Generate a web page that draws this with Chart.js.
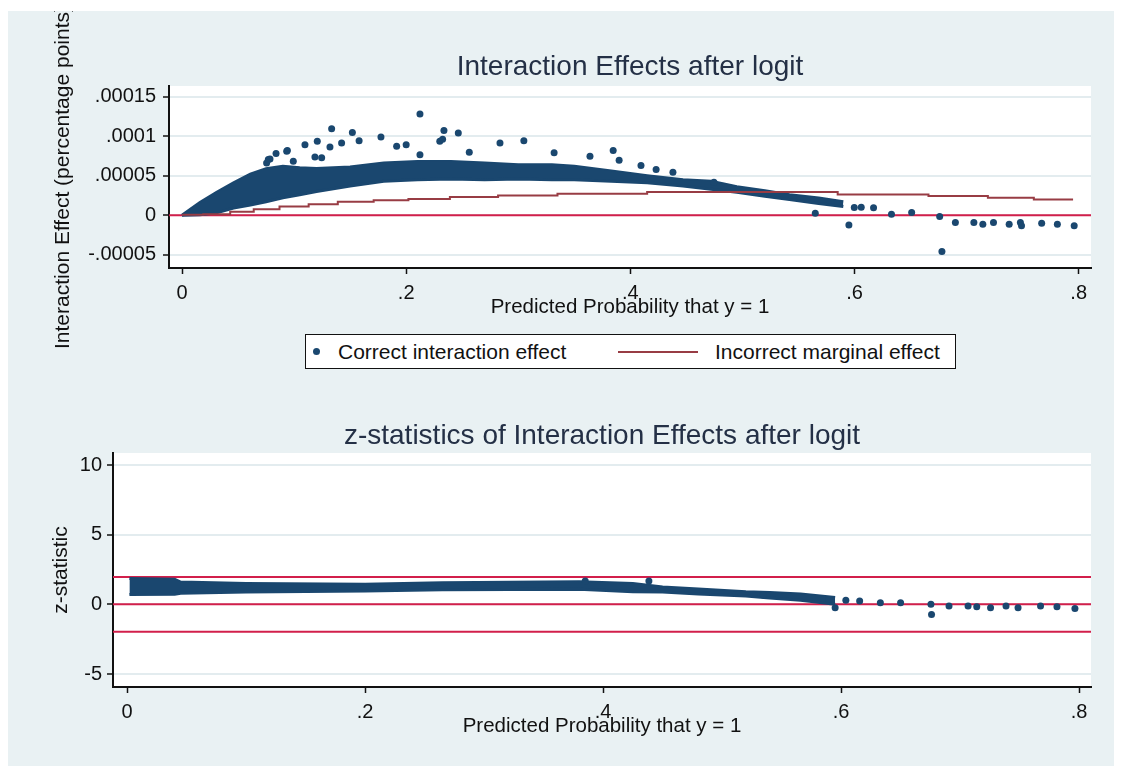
<!DOCTYPE html>
<html>
<head>
<meta charset="utf-8">
<title>Interaction Effects after logit</title>
<script src="https://cdn.jsdelivr.net/npm/chart.js@4.4.0/dist/chart.umd.min.js"></script>
<style>
  body { margin: 0; background: #fff; width: 1124px; height: 771px; position: relative; overflow: hidden;
         font-family: "Liberation Sans", Arial, sans-serif; }
  #bg { position: absolute; left: 8px; top: 11px; width: 1106px; height: 755px; background: #e9f1f3; }
  canvas { position: absolute; left: 8px; }
  #topChart { top: 11px; }
  #bottomChart { top: 380px; }
  #legend { position: absolute; left: 305px; top: 334px; width: 651px; height: 35px; box-sizing: border-box;
            background: #fff; border: 1.5px solid #111; }
  #legend .lbl { position: absolute; top: 0; line-height: 33px; font-size: 21px; color: #111; white-space: nowrap; }
  #legend .dot { position: absolute; left: 7px; top: 13px; width: 7px; height: 7px; border-radius: 50%; background: #1a476f; }
  #legend .seg { position: absolute; left: 312px; top: 15.5px; width: 80px; height: 2px; background: #983c44; }
</style>
</head>
<body>
<div id="bg"></div>
<canvas id="topChart" width="1106" height="368"></canvas>
<canvas id="bottomChart" width="1106" height="370"></canvas>
<div id="legend">
  <span class="dot"></span><span class="lbl" style="left:32px">Correct interaction effect</span>
  <span class="seg"></span><span class="lbl" style="left:409px">Incorrect marginal effect</span>
</div>
<script>
// ---- top panel: interaction effect vs predicted probability ----
const topBandX    = [0, 0.016, 0.031, 0.046, 0.061, 0.075, 0.09, 0.105, 0.12, 0.15, 0.18, 0.21, 0.24, 0.27, 0.30, 0.33, 0.35, 0.383, 0.415, 0.447, 0.472, 0.495, 0.52, 0.542, 0.568, 0.59];
const topBandHigh = [0, 1.6e-5, 2.9e-5, 4.1e-5, 5.2e-5, 5.9e-5, 6.2e-5, 6.0e-5, 5.9e-5, 6.1e-5, 6.6e-5, 6.8e-5, 6.8e-5, 6.6e-5, 6.4e-5, 6.4e-5, 6.2e-5, 5.6e-5, 5.0e-5, 4.5e-5, 4.3e-5, 3.6e-5, 3.1e-5, 2.6e-5, 2.2e-5, 1.7e-5];
const topBandLow  = [0, 0.5e-6, 3e-6, 9e-6, 1.3e-5, 1.7e-5, 2.2e-5, 2.6e-5, 3.0e-5, 3.7e-5, 4.3e-5, 4.5e-5, 4.6e-5, 4.5e-5, 4.6e-5, 4.5e-5, 4.5e-5, 4.3e-5, 4.1e-5, 3.7e-5, 3.3e-5, 2.9e-5, 2.4e-5, 2.0e-5, 1.5e-5, 1.1e-5];
const topPointsX = [0.2123, 0.1335, 0.152, 0.2337, 0.2465, 0.1775, 0.1207, 0.1097, 0.1424, 0.158, 0.132, 0.1915, 0.200, 0.230, 0.2325, 0.2837, 0.305, 0.2563, 0.2123, 0.1186, 0.1246, 0.094, 0.0839, 0.077, 0.0993, 0.0785, 0.0934, 0.0755,
                    0.332, 0.364, 0.3847, 0.390, 0.4095, 0.423, 0.438, 0.4746,
                    0.5998, 0.606, 0.617, 0.633, 0.651, 0.676, 0.678, 0.595, 0.565, 0.690, 0.7065, 0.7145, 0.724, 0.738, 0.748, 0.749, 0.767, 0.781, 0.796];
const topPointsY = [1.28e-4, 1.094e-4, 1.048e-4, 1.073e-4, 1.04e-4, 9.9e-5, 9.35e-5, 8.93e-5, 9.14e-5, 9.43e-5, 8.64e-5, 8.72e-5, 8.93e-5, 9.35e-5, 9.6e-5, 9.14e-5, 9.43e-5, 7.96e-5, 7.67e-5, 7.38e-5, 7.26e-5, 8.18e-5, 7.8e-5, 7.05e-5, 6.83e-5, 7.13e-5, 8.09e-5, 6.6e-5,
                    7.9e-5, 7.46e-5, 8.18e-5, 6.96e-5, 6.3e-5, 5.79e-5, 5.45e-5, 4.19e-5,
                    9.7e-6, 1.0e-5, 9.5e-6, 1.3e-6, 3.4e-6, -1.7e-6, -4.57e-5, -1.22e-5, 2.5e-6, -9.2e-6, -9.2e-6, -1.13e-5, -9.2e-6, -1.13e-5, -9.2e-6, -1.34e-5, -1.0e-5, -1.13e-5, -1.34e-5];
const marginalX = [0, 0.019, 0.043, 0.064, 0.087, 0.113, 0.139, 0.171, 0.202, 0.239, 0.282, 0.335, 0.415, 0.585, 0.666, 0.719, 0.760, 0.795];
const marginalY = [0.5e-6, 1.3e-6, 4.5e-6, 7.5e-6, 1.1e-5, 1.4e-5, 1.7e-5, 1.9e-5, 2.05e-5, 2.3e-5, 2.5e-5, 2.73e-5, 2.93e-5, 2.64e-5, 2.43e-5, 2.23e-5, 1.98e-5, 1.98e-5];
const topYTicks = [-0.00005, 0, 0.00005, 0.0001, 0.00015];
const topYTickLabels = ['-.00005', '0', '.00005', '.0001', '.00015'];
const topXRange = [-0.0116, 0.811];
const topYRange = [-0.0000667, 0.0001635];

// ---- bottom panel: z-statistics ----
const zBandX    = [0.002, 0.04, 0.045, 0.1, 0.2, 0.265, 0.38, 0.425, 0.45, 0.48, 0.52, 0.54, 0.566, 0.595];
const zBandHigh = [1.85, 1.8, 1.6, 1.5, 1.45, 1.55, 1.62, 1.5, 1.25, 1.1, 0.9, 0.85, 0.75, 0.5];
const zBandLow  = [0.7, 0.72, 0.8, 0.88, 0.95, 1.05, 1.08, 0.9, 0.88, 0.75, 0.6, 0.45, 0.3, 0.0];
const zPointsX = [0.385, 0.4385, 0.5346, 0.604, 0.6156, 0.633, 0.650, 0.6755, 0.676, 0.6907, 0.7067, 0.714, 0.7256, 0.7386, 0.7487, 0.7676, 0.7814, 0.7965, 0.595, 0.59];
const zPointsY = [1.67, 1.67, 0.67, 0.29, 0.24, 0.12, 0.12, 0.0, -0.72, -0.12, -0.12, -0.17, -0.24, -0.12, -0.24, -0.12, -0.17, -0.29, -0.25, 0.35];
const zRefLines = [-1.96, 0, 1.96];
const bottomYTicks = [-5, 0, 5, 10];
const bottomYTickLabels = ['-5', '0', '5', '10'];
const bottomXRange = [-0.0118, 0.810];
const bottomYRange = [-5.93, 10.86];

const xTicks = [0, 0.2, 0.4, 0.6, 0.8];
const xTickLabels = ['0', '.2', '.4', '.6', '.8'];

const navy = '#1a476f';
const maroon = '#983c44';
const crimson = '#d21f4b';
const ink = '#111';
const family = '"Liberation Sans", Arial, sans-serif';

function pts(xs, ys) {
    return xs.map((x, i) => ({ x: x, y: ys[i] }));
}

// white plot region + panel title centred over the plot
const plotFrame = {
    id: 'plotFrame',
    beforeDraw(chart) {
        const a = chart.chartArea;
        chart.ctx.save();
        chart.ctx.fillStyle = '#fff';
        chart.ctx.fillRect(a.left, a.top, a.right - a.left, a.bottom - a.top);
        chart.ctx.restore();
    },
    afterDraw(chart, args, opts) {
        const a = chart.chartArea;
        const ctx = chart.ctx;
        ctx.save();
        ctx.font = '28px ' + family;
        ctx.fillStyle = '#243046';
        ctx.textAlign = 'center';
        ctx.textBaseline = 'alphabetic';
        ctx.fillText(opts.text, (a.left + a.right) / 2, opts.baseline);
        ctx.restore();
    }
};

function xAxis(range) {
    return {
        type: 'linear', min: range[0], max: range[1],
        afterBuildTicks: s => { s.ticks = xTicks.map(v => ({ value: v })); },
        afterFit: s => { s.height = 51.7; },
        ticks: { callback: (v, i) => xTickLabels[i], font: { size: 20, family: family }, color: ink,
                 padding: 7, maxRotation: 0, autoSkip: false },
        grid: { drawOnChartArea: false, tickLength: 6, tickColor: ink, tickWidth: 1.5 },
        border: { color: ink, width: 2 },
        title: { display: true, text: 'Predicted Probability that y = 1', color: ink,
                 font: { size: 20.5, family: family }, padding: { top: 0, bottom: 0 } }
    };
}

function yAxis(range, ticks, labels, width, title, titlePad, tickPad) {
    return {
        type: 'linear', min: range[0], max: range[1],
        afterBuildTicks: s => { s.ticks = ticks.map(v => ({ value: v })); },
        afterFit: s => { s.width = width; },
        ticks: { callback: (v, i) => labels[i], font: { size: 20, family: family }, color: ink,
                 padding: tickPad, autoSkip: false },
        grid: { color: '#e3ecef', lineWidth: 2, tickLength: 6, tickColor: ink, tickWidth: 1.5 },
        border: { color: ink, width: 2 },
        title: { display: true, text: title, color: ink, font: { size: 21, family: family },
                 padding: { top: titlePad, bottom: 0 } }
    };
}

function band(xs, hi, lo) {
    return [
        { type: 'line', data: pts(xs, hi), borderColor: navy, borderWidth: 3, pointRadius: 0, fill: false, order: 9 },
        { type: 'line', data: pts(xs, lo), borderColor: navy, borderWidth: 3, pointRadius: 0, fill: '-1',
          backgroundColor: navy, order: 8 }
    ];
}

function refLine(y, range) {
    return { type: 'line', data: [{ x: range[0], y: y }, { x: range[1], y: y }], borderColor: crimson,
             borderWidth: 2, pointRadius: 0, fill: false, order: 10 };
}

const common = {
    responsive: false,
    animation: false,
    events: [],
    plugins: { legend: { display: false }, tooltip: { enabled: false } }
};

new Chart(document.getElementById('topChart'), {
    type: 'scatter',
    data: {
        datasets: [
            refLine(0, topXRange),
            ...band(topBandX, topBandHigh, topBandLow),
            { type: 'scatter', data: pts(topPointsX, topPointsY), backgroundColor: navy, borderWidth: 0,
              pointRadius: 3.5, order: 7 },
            { type: 'line', data: pts(marginalX, marginalY), stepped: 'before', borderColor: maroon,
              borderWidth: 2, pointRadius: 0, fill: false, order: 1 }
        ]
    },
    options: Object.assign({}, common, {
        layout: { padding: { top: 75, right: 23, bottom: 59.3, left: 0 } },
        plugins: Object.assign({}, common.plugins, {
            plotFrame: { text: 'Interaction Effects after logit', baseline: 64 }
        }),
        scales: {
            x: xAxis(topXRange),
            y: yAxis(topYRange, topYTicks, topYTickLabels, 161, 'Interaction Effect (percentage points)', 43, 7)
        }
    }),
    plugins: [plotFrame]
});

new Chart(document.getElementById('bottomChart'), {
    type: 'scatter',
    data: {
        datasets: [
            ...zRefLines.map(v => refLine(v, bottomXRange)),
            ...band(zBandX, zBandHigh, zBandLow),
            { type: 'scatter', data: pts(zPointsX, zPointsY), backgroundColor: navy, borderWidth: 0,
              pointRadius: 3.5, order: 7 }
        ]
    },
    options: Object.assign({}, common, {
        layout: { padding: { top: 73, right: 23, bottom: 11.3, left: 0 } },
        plugins: Object.assign({}, common.plugins, {
            plotFrame: { text: 'z-statistics of Interaction Effects after logit', baseline: 64 }
        }),
        scales: {
            x: xAxis(bottomXRange),
            y: yAxis(bottomYRange, bottomYTicks, bottomYTickLabels, 105, 'z-statistic', 41, 5)
        }
    }),
    plugins: [plotFrame]
});
</script>
</body>
</html>
